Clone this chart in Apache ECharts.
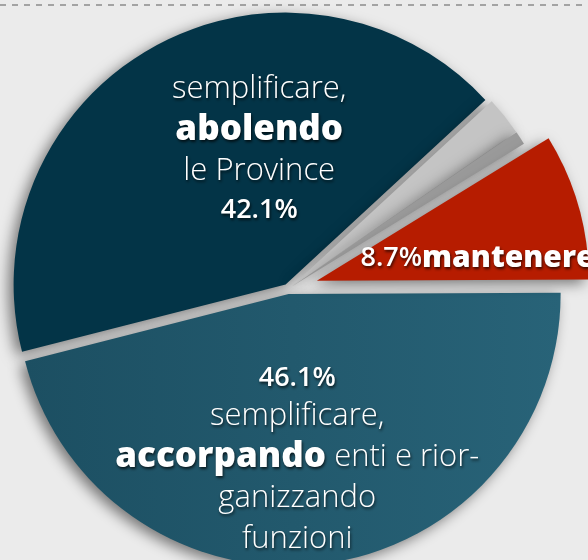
<!DOCTYPE html>
<html>
<head>
<meta charset="utf-8">
<script src="https://cdn.jsdelivr.net/npm/echarts@6/dist/echarts.min.js"></script>
<style>
  html, body { margin: 0; padding: 0; background: #ebebeb; }
  #chart { width: 588px; height: 560px; }
</style>
</head>
<body>
<div id="chart"></div>
<script>
// slices in drawing order (clockwise from the left)
const sliceNames = ['abolendo le Province', 'altro', 'non sa', 'mantenere', 'accorpando enti'];
const sliceValues = [42.1, 2.3, 0.8, 8.7, 46.1];
const sliceColors = ['#033447', '#c4c4c4', '#9a9a9a', '#b61c00', null];
// which slice is pulled out further
const pulledOut = [false, false, false, true, false];

const FONT = '"Open Sans", Lato, sans-serif';
const shadow = { shadowBlur: 14, shadowColor: 'rgba(0,0,0,0.5)', shadowOffsetX: -5, shadowOffsetY: 4 };

const tealGradient = new echarts.graphic.LinearGradient(0, 0, 1, 0, [
  { offset: 0, color: '#1c4f62' },
  { offset: 1, color: '#286378' }
]);

function pct(v) { return v.toFixed(1) + '%'; }

function labelText(p) {
  const v = pct(p.value);
  if (p.dataIndex === 0) return '{r|semplificare,}\n{b|abolendo}\n{r|le Province}\n{p|' + v + '}';
  if (p.dataIndex === 3) return '{p|' + v + '}{b2|mantenere}';
  if (p.dataIndex === 4) return '{p|' + v + '}\n{r|semplificare,}\n{b|accorpando}{r| enti e rior-}\n{r|ganizzando}\n{r|funzioni}';
  return '';
}

const textShadow = { textShadowColor: 'rgba(0,0,0,0.7)', textShadowBlur: 3, textShadowOffsetX: 1, textShadowOffsetY: 2 };
const rich = {
  r: Object.assign({ fontFamily: FONT, fontSize: 31, fontWeight: 300, color: '#fff', lineHeight: 41 }, textShadow),
  b: Object.assign({ fontFamily: FONT, fontSize: 35, fontWeight: 800, color: '#fff', lineHeight: 41 }, textShadow),
  b2: Object.assign({ fontFamily: FONT, fontSize: 30, fontWeight: 800, color: '#fff', lineHeight: 34 }, textShadow),
  p: Object.assign({ fontFamily: FONT, fontSize: 27, fontWeight: 600, color: '#fff', lineHeight: 36 }, textShadow)
};

const labelShift = { 0: [40, -14], 3: [27, 16], 4: [-9, 28] };

function buildData(outer) {
  return sliceNames.map((name, i) => {
    const visible = pulledOut[i] === outer;
    const color = i === 4 ? tealGradient : sliceColors[i];
    return {
      name: name,
      value: sliceValues[i],
      selected: true,
      itemStyle: visible ? Object.assign({ color: color }, shadow) : { color: 'rgba(0,0,0,0)', shadowBlur: 0 },
      label: { show: visible && labelShift[i] !== undefined }
    };
  });
}

function pieSeries(outer) {
  return {
    type: 'pie',
    center: [288, 289],
    radius: [0, 272],
    startAngle: 194.3,
    clockwise: true,
    selectedMode: 'multiple',
    selectedOffset: outer ? 30 : 5,
    avoidLabelOverlap: false,
    silent: true,
    emphasis: { disabled: true },
    itemStyle: { borderWidth: 0 },
    label: {
      position: 'inside',
      formatter: labelText,
      align: 'center',
      rich: rich
    },
    labelLine: { show: false },
    labelLayout: function (p) {
      const s = labelShift[p.dataIndex] || [0, 0];
      return { dx: s[0], dy: s[1] };
    },
    data: buildData(outer)
  };
}

const chart = echarts.init(document.getElementById('chart'));
chart.setOption({
  animation: false,
  backgroundColor: '#ebebeb',
  graphic: [{
    type: 'line',
    shape: { x1: 0, y1: 5, x2: 588, y2: 5 },
    style: { stroke: '#a3a3a3', lineWidth: 2, lineDash: [6, 6] }
  }],
  series: [pieSeries(false), pieSeries(true)]
});
</script>
</body>
</html>
